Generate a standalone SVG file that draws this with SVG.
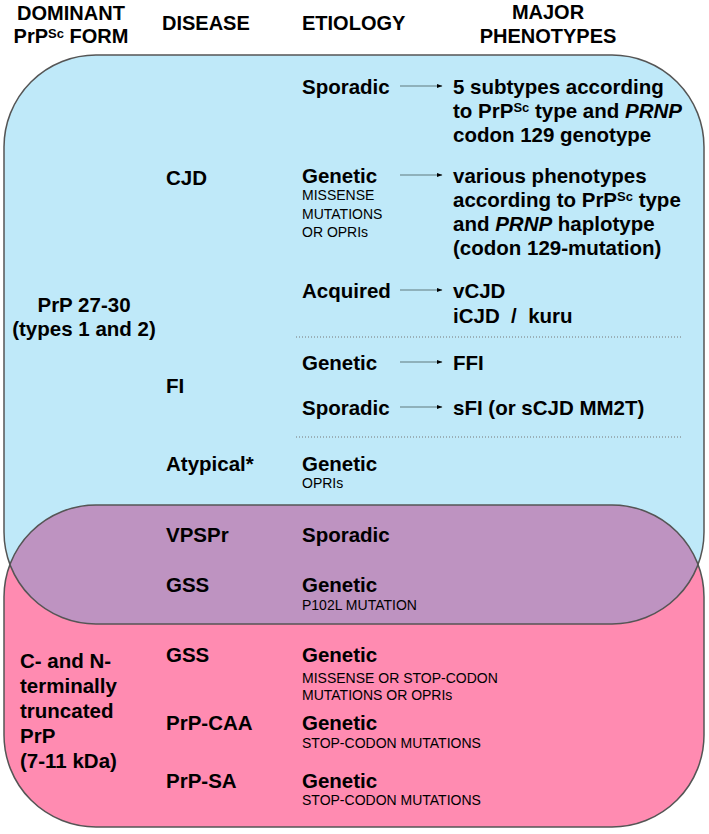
<svg xmlns="http://www.w3.org/2000/svg" width="709" height="834" viewBox="0 0 709 834">
<style>
text{font-family:"Liberation Sans",Arial,sans-serif;fill:#000}
.h{font-size:20px;font-weight:bold}
.b{font-size:20.5px;font-weight:bold}
.s{font-size:14px}
.sup{font-size:13px}
.ar{stroke:#7f9ea6;stroke-width:1.3;fill:none}
.dot{stroke:#777;stroke-width:1;stroke-dasharray:1 2;fill:none}
.edge{fill:none;stroke:#555;stroke-width:1.5}
</style>
<defs>
<marker id="ah" viewBox="0 0 6 6" refX="5.5" refY="3" markerWidth="6" markerHeight="6" markerUnits="userSpaceOnUse" orient="auto">
<path d="M0,0.8 L6,3 L0,5.2 Z" fill="#000"/>
</marker>
<clipPath id="pinkclip"><rect x="4" y="505" width="700" height="322" rx="92" ry="92"/></clipPath>
</defs>

<g id="regions">
<rect id="blue" x="4" y="55" width="700" height="569" rx="92" ry="92" fill="#BFE9F9"/>
<rect id="pink" x="4" y="505" width="700" height="322" rx="92" ry="92" fill="#FF8BB1"/>
<rect id="overlap" x="4" y="55" width="700" height="569" rx="92" ry="92" fill="#BE93C1" clip-path="url(#pinkclip)"/>
<rect x="4" y="55" width="700" height="569" rx="92" ry="92" class="edge"/>
<rect x="4" y="505" width="700" height="322" rx="92" ry="92" class="edge"/>
</g>

<g id="header">
<text class="h" x="71" y="20" text-anchor="middle">DOMINANT</text>
<text class="h" x="71" y="43" text-anchor="middle">PrP<tspan class="sup" dy="-5">Sc</tspan><tspan dy="5"> FORM</tspan></text>
<text class="h" x="162" y="30">DISEASE</text>
<text class="h" x="302" y="30">ETIOLOGY</text>
<text class="h" x="548" y="19" text-anchor="middle">MAJOR</text>
<text class="h" x="548" y="43" text-anchor="middle">PHENOTYPES</text>
</g>

<g id="form-prp27-30">
<text class="b" x="84" y="312" text-anchor="middle">PrP 27-30</text>
<text class="b" x="84" y="336" text-anchor="middle">(types 1 and 2)</text>
</g>

<g id="form-truncated">
<text class="b" x="20" y="668">C- and N-</text>
<text class="b" x="20" y="693">terminally</text>
<text class="b" x="20" y="718">truncated</text>
<text class="b" x="20" y="743">PrP</text>
<text class="b" x="20" y="768">(7-11 kDa)</text>
</g>

<g id="cjd">
<text class="b" x="166" y="185">CJD</text>
<text class="b" x="302" y="94">Sporadic</text>
<text class="b" x="453" y="94">5 subtypes according</text>
<text class="b" x="453" y="118">to PrP<tspan class="sup" dy="-6">Sc</tspan><tspan dy="6"> type and </tspan><tspan font-style="italic">PRNP</tspan></text>
<text class="b" x="453" y="142">codon 129 genotype</text>
<text class="b" x="302" y="183">Genetic</text>
<text class="s" x="302" y="200">MISSENSE</text>
<text class="s" x="302" y="219">MUTATIONS</text>
<text class="s" x="302" y="237">OR OPRIs</text>
<text class="b" x="453" y="183">various phenotypes</text>
<text class="b" x="453" y="207">according to PrP<tspan class="sup" dy="-6">Sc</tspan><tspan dy="6"> type</tspan></text>
<text class="b" x="453" y="231">and <tspan font-style="italic">PRNP</tspan> haplotype</text>
<text class="b" x="453" y="255">(codon 129-mutation)</text>
<text class="b" x="302" y="298">Acquired</text>
<text class="b" x="453" y="298">vCJD</text>
<text class="b" x="453" y="323" xml:space="preserve">iCJD  /  kuru</text>
</g>

<g id="fi">
<text class="b" x="166" y="393">FI</text>
<text class="b" x="302" y="370">Genetic</text>
<text class="b" x="453" y="370">FFI</text>
<text class="b" x="302" y="415">Sporadic</text>
<text class="b" x="453" y="415">sFI (or sCJD MM2T)</text>
</g>

<g id="atypical">
<text class="b" x="166" y="471">Atypical*</text>
<text class="b" x="302" y="471">Genetic</text>
<text class="s" x="302" y="488">OPRIs</text>
</g>

<g id="vpspr">
<text class="b" x="166" y="542">VPSPr</text>
<text class="b" x="302" y="542">Sporadic</text>
</g>

<g id="gss-p102l">
<text class="b" x="166" y="592">GSS</text>
<text class="b" x="302" y="592">Genetic</text>
<text class="s" x="302" y="610">P102L MUTATION</text>
</g>

<g id="gss-truncated">
<text class="b" x="166" y="662">GSS</text>
<text class="b" x="302" y="662">Genetic</text>
<text class="s" x="302" y="683">MISSENSE OR STOP-CODON</text>
<text class="s" x="302" y="700">MUTATIONS OR OPRIs</text>
</g>

<g id="prp-caa">
<text class="b" x="166" y="730">PrP-CAA</text>
<text class="b" x="302" y="730">Genetic</text>
<text class="s" x="302" y="748">STOP-CODON MUTATIONS</text>
</g>

<g id="prp-sa">
<text class="b" x="166" y="788">PrP-SA</text>
<text class="b" x="302" y="788">Genetic</text>
<text class="s" x="302" y="805">STOP-CODON MUTATIONS</text>
</g>

<g id="separators">
<line class="dot" x1="296" y1="337" x2="682" y2="337"/>
<line class="dot" x1="296" y1="437" x2="682" y2="437"/>
</g>

<g id="connectors">
<line class="ar" x1="400" y1="86" x2="442" y2="86" marker-end="url(#ah)"/>
<line class="ar" x1="400" y1="175" x2="442" y2="175" marker-end="url(#ah)"/>
<line class="ar" x1="400" y1="290" x2="442" y2="290" marker-end="url(#ah)"/>
<line class="ar" x1="400" y1="362" x2="442" y2="362" marker-end="url(#ah)"/>
<line class="ar" x1="400" y1="407" x2="442" y2="407" marker-end="url(#ah)"/>
</g>
</svg>
